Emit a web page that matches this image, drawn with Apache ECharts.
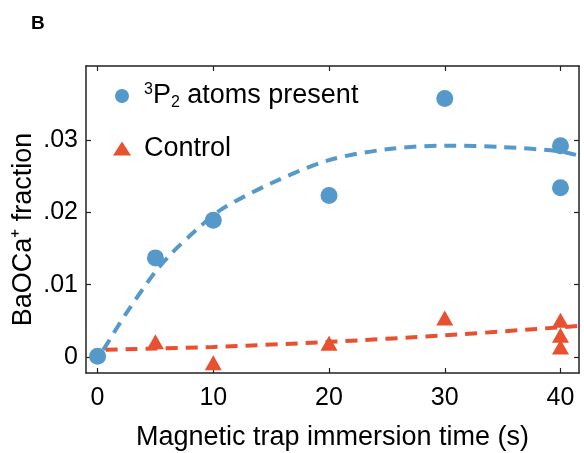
<!DOCTYPE html>
<html>
<head>
<meta charset="utf-8">
<script src="https://cdn.jsdelivr.net/npm/echarts@6/dist/echarts.min.js"></script>
<style>
  html, body { margin: 0; padding: 0; background: #fff; }
  #chart { width: 584px; height: 453px; }
</style>
</head>
<body>
<div id="chart"></div>
<script>
// measured points, 3P2 atoms present
var atomTimes = [0, 5, 10, 20, 30, 40, 40];
var atomFrac = [0.0001, 0.0137, 0.0189, 0.0223, 0.0357, 0.0292, 0.0234];
// control points
var ctrlTimes = [5, 10, 20, 30, 40, 40, 40];
var ctrlFrac = [0.0021, -0.0008, 0.0019, 0.0054, 0.0051, 0.0030, 0.0014];
// fitted curves
var atomFitT = [0.5, 2.5, 5, 6.5, 8.5, 10.6, 15, 20, 25, 30, 35, 40, 41.6];
var atomFitY = [0.0010, 0.0061, 0.0118, 0.0145, 0.0175, 0.0203, 0.0240, 0.0272, 0.0287, 0.0292, 0.0290, 0.0284, 0.0278];
var ctrlFitT = [0.7, 10, 20, 30, 41.6];
var ctrlFitY = [0.0010, 0.0014, 0.0021, 0.0030, 0.0043];
var xTicks = [0, 10, 20, 30, 40];
var yTicks = [0, 0.01, 0.02, 0.03];
var yTickLabels = ['0', '.01', '.02', '.03'];

var blue = '#5499c9';
var red = '#e8502f';
var axisCol = '#222';
var font = 'Liberation Sans, Arial, sans-serif';

function pairs(xs, ys) {
  return xs.map(function (x, i) { return [x, ys[i]]; });
}

var chart = echarts.init(document.getElementById('chart'));
var tickStyle = { show: true, inside: true, length: 5, lineStyle: { color: axisCol, width: 1.2 } };
var lineStyle = { show: true, onZero: false, lineStyle: { color: axisCol, width: 1.5 } };

var option = {
  animation: false,
  title: {
    text: 'B', left: 26, top: 9,
    textStyle: { fontFamily: font, fontSize: 19, fontWeight: 'bold', color: '#000' }
  },
  grid: { left: 86, right: 5, top: 66, bottom: 80, outerBoundsMode: 'none', containLabel: false },
  legend: {
    orient: 'vertical', left: 108, top: 77, itemGap: 24,
    itemWidth: 18, itemHeight: 14,
    data: [
      { name: 'atoms', icon: 'circle' },
      { name: 'ctrl', icon: 'triangle' }
    ],
    formatter: function (n) {
      return n === 'atoms' ? '{sup|3}{t|P}{sub|2}{t| atoms present}' : '{tc|Control}';
    },
    textStyle: {
      fontFamily: font, color: '#000',
      rich: {
        t: { fontFamily: font, fontSize: 27, color: '#000' },
        tc: { fontFamily: font, fontSize: 27, color: '#000', padding: [0, 0, 0, 8] },
        sup: { fontFamily: font, fontSize: 16, color: '#000', padding: [0, 0, 12, 8] },
        sub: { fontFamily: font, fontSize: 16, color: '#000', padding: [14, 0, 0, 0] }
      }
    }
  },
  xAxis: [{
    type: 'value', min: -1, max: 41.6,
    name: 'Magnetic trap immersion time (s)', nameLocation: 'middle', nameGap: 51,
    nameMoveOverlap: false,
    nameTextStyle: { fontFamily: font, fontSize: 27, color: '#000' },
    axisLine: lineStyle,
    axisTick: Object.assign({ customValues: xTicks }, tickStyle),
    axisLabel: { customValues: xTicks, fontFamily: font, fontSize: 25, color: '#000', margin: 13 },
    splitLine: { show: false }
  }, {
    type: 'value', min: -1, max: 41.6, position: 'top',
    axisLine: lineStyle,
    axisTick: Object.assign({ customValues: xTicks }, tickStyle),
    axisLabel: { show: false },
    splitLine: { show: false }
  }],
  yAxis: [{
    type: 'value', min: -0.0022, max: 0.0402,
    name: 'BaOCa\u207A fraction', nameLocation: 'middle', nameGap: 49,
    nameMoveOverlap: false,
    nameTextStyle: { fontFamily: font, fontSize: 27, color: '#000', padding: [0, 20, 0, 0] },
    axisLine: lineStyle,
    axisTick: Object.assign({ customValues: yTicks }, tickStyle),
    axisLabel: {
      customValues: yTicks, fontFamily: font, fontSize: 25, color: '#000', margin: 8,
      formatter: function (v) {
        var i = yTicks.findIndex(function (t) { return Math.abs(t - v) < 1e-9; });
        return i >= 0 ? yTickLabels[i] : '';
      }
    },
    splitLine: { show: false }
  }, {
    type: 'value', min: -0.0022, max: 0.0402, position: 'right',
    axisLine: lineStyle,
    axisTick: Object.assign({ customValues: yTicks }, tickStyle),
    axisLabel: { show: false },
    splitLine: { show: false }
  }],
  series: [
    {
      name: 'atomsFit', type: 'line', smooth: 0.3, symbol: 'none', z: 2,
      data: pairs(atomFitT, atomFitY),
      lineStyle: { color: blue, width: 4, type: [12, 8] }
    },
    {
      name: 'ctrlFit', type: 'line', smooth: 0.3, symbol: 'none', z: 2,
      data: pairs(ctrlFitT, ctrlFitY),
      lineStyle: { color: red, width: 4, type: [12, 8] }
    },
    {
      name: 'atoms', type: 'scatter', symbol: 'circle', symbolSize: 17, z: 3,
      itemStyle: { color: blue, opacity: 1 },
      data: pairs(atomTimes, atomFrac)
    },
    {
      name: 'ctrl', type: 'scatter', symbol: 'triangle', symbolSize: [17, 15], z: 3,
      itemStyle: { color: red, opacity: 1 },
      data: pairs(ctrlTimes, ctrlFrac)
    }
  ]
};
chart.setOption(option);
</script>
</body>
</html>
